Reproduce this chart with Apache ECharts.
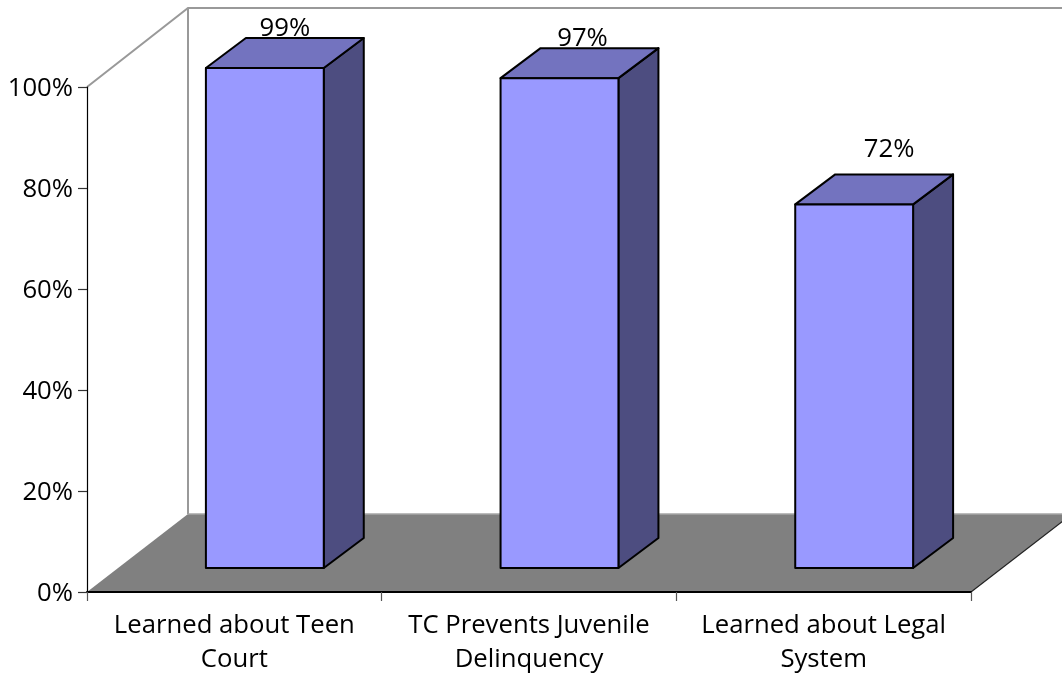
<!DOCTYPE html>
<html>
<head>
<meta charset="utf-8">
<style>html,body{margin:0;padding:0;background:#fff}#c{width:1062px;height:673px}</style>
<script src="https://cdn.jsdelivr.net/npm/echarts@6/dist/echarts.min.js"></script>
</head>
<body>
<div id="c"></div>
<script>
const categories = ["Learned about Teen\nCourt", "TC Prevents Juvenile\nDelinquency", "Learned about Legal\nSystem"];
const percentValues = [99, 97, 72];
const labelGaps = [9, 9, 25];
const labelShifts = [0, 3, 15];

const FONT = '"Open Sans", sans-serif';
const FONT_SIZE = 25.7;
const WALL_DX = 101, WALL_DY = 78;
const BAR_DX = 40, BAR_DY = 30;
const OFFSET_X = 30.5, OFFSET_Y = 24;
const BAR_RATIO = 0.4;
const STROKE = {stroke: '#000', lineWidth: 2, lineJoin: 'round'};

function renderRoom(params) {
  const c = params.coordSys;
  const l = c.x, r = c.x + c.width, t = c.y, b = c.y + c.height;
  const gray = {stroke: '#999', lineWidth: 2, fill: null};
  return {type: 'group', silent: true, children: [
    {type: 'polygon', shape: {points: [[l, b], [l + WALL_DX, b - WALL_DY], [r + WALL_DX, b - WALL_DY], [r, b]]},
      style: {fill: '#808080', stroke: null}},
    {type: 'polyline', shape: {points: [[l, t], [l + WALL_DX, t - WALL_DY - 1], [r + WALL_DX, t - WALL_DY - 1]]}, style: gray},
    {type: 'line', shape: {x1: l + WALL_DX, y1: t - WALL_DY - 1, x2: l + WALL_DX, y2: b - WALL_DY}, style: {stroke: '#999', lineWidth: 2}},
    {type: 'line', shape: {x1: l + WALL_DX, y1: b - WALL_DY, x2: r + WALL_DX, y2: b - WALL_DY}, style: {stroke: '#a6a6a6', lineWidth: 1.5}},
    {type: 'line', shape: {x1: r, y1: b, x2: r + WALL_DX, y2: b - WALL_DY}, style: {stroke: '#222', lineWidth: 1.2}}
  ]};
}

function renderBar(params, api) {
  const i = api.value(0), v = api.value(1);
  const top = api.coord([i, v]);
  const bottom = api.coord([i, 0]);
  const w = api.size([1, 0])[0] * BAR_RATIO;
  const x0 = top[0] - w / 2 + OFFSET_X, x1 = x0 + w;
  const yt = top[1] - OFFSET_Y, yb = bottom[1] - OFFSET_Y;
  return {type: 'group', children: [
    {type: 'polygon', shape: {points: [[x1, yt], [x1 + BAR_DX, yt - BAR_DY], [x1 + BAR_DX, yb - BAR_DY], [x1, yb]]},
      style: Object.assign({fill: '#4d4d80'}, STROKE)},
    {type: 'polygon', shape: {points: [[x0, yt], [x0 + BAR_DX, yt - BAR_DY], [x1 + BAR_DX, yt - BAR_DY], [x1, yt]]},
      style: Object.assign({fill: '#7373bf'}, STROKE)},
    {type: 'rect', shape: {x: x0, y: yt, width: w, height: yb - yt},
      style: Object.assign({fill: '#9999ff'}, STROKE)},
    {type: 'text', x: x0 + w / 2 + BAR_DX / 2 + labelShifts[i], y: yt - BAR_DY - labelGaps[i],
      style: {text: v + '%', font: FONT_SIZE + 'px ' + FONT, fill: '#000', align: 'center', verticalAlign: 'middle'}}
  ]};
}

const chart = echarts.init(document.getElementById('c'), null, {renderer: 'canvas'});
chart.setOption({
  animation: false,
  backgroundColor: '#fff',
  grid: {left: 87, right: 91, top: 87, bottom: 81, containLabel: false, outerBoundsMode: 'none'},
  xAxis: {
    type: 'category', data: categories, z: 5,
    axisLine: {lineStyle: {color: '#000', width: 2}},
    axisTick: {show: true, length: 9, alignWithLabel: false, lineStyle: {color: '#555', width: 1.2}},
    axisLabel: {interval: 0, color: '#000', fontFamily: FONT, fontSize: FONT_SIZE, lineHeight: 34, margin: 17}
  },
  yAxis: {
    type: 'value', min: 0, max: 100, interval: 20, z: 5,
    axisLine: {show: true, lineStyle: {color: '#000', width: 1.2}},
    axisTick: {show: true, length: 9, lineStyle: {color: '#333', width: 1.2}},
    splitLine: {show: false},
    axisLabel: {margin: 14, formatter: '{t|{value}%}',
      rich: {t: {color: '#000', fontFamily: FONT, fontSize: FONT_SIZE, padding: [4, 0, 0, 0]}}}
  },
  series: [
    {type: 'custom', coordinateSystem: 'cartesian2d', clip: false, z: 1, silent: true, data: [[0, 0]], renderItem: renderRoom},
    {type: 'custom', coordinateSystem: 'cartesian2d', clip: false, z: 2, encode: {x: 0, y: 1},
      data: percentValues.map((v, i) => [i, v]), renderItem: renderBar}
  ]
});
</script>
</body>
</html>
